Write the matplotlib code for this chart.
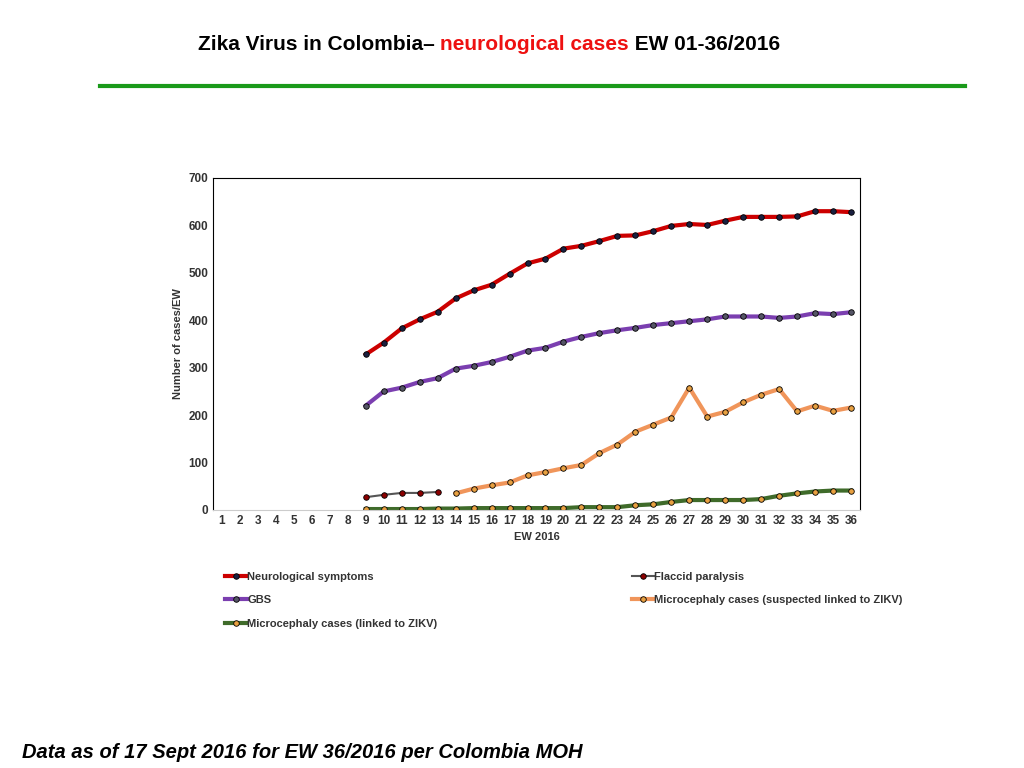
import matplotlib
matplotlib.use("Agg")
import matplotlib.pyplot as plt
from matplotlib.lines import Line2D

plt.rcParams['font.family'] = ['Liberation Sans', 'DejaVu Sans']

weeks = list(range(1, 37))
neuro_weeks = list(range(9, 37))
neuro = [328, 353, 383, 402, 418, 446, 463, 475, 498, 520, 530, 551, 557, 567,
         578, 579, 588, 599, 603, 601, 610, 618, 618, 618, 619, 630, 630, 628]
gbs = [220, 250, 258, 270, 278, 298, 304, 312, 323, 336, 342, 355, 365, 373,
       379, 384, 390, 394, 398, 402, 408, 408, 408, 405, 408, 415, 413, 417]
flaccid_weeks = list(range(9, 14))
flaccid = [27, 32, 36, 36, 38]
micro_susp_weeks = list(range(14, 37))
micro_susp = [35, 45, 52, 58, 73, 80, 88, 95, 120, 138, 165, 180, 195, 258,
              197, 207, 227, 243, 255, 208, 220, 209, 216]
micro_conf = [2, 2, 2, 2, 3, 3, 4, 4, 4, 4, 4, 4, 6, 6, 6, 10, 12, 17, 21,
              21, 21, 21, 23, 30, 35, 39, 41, 41]

fig = plt.figure(figsize=(10.24, 7.68), dpi=100)
ax = fig.add_axes([213/1024, 1-510/768, (860-213)/1024, (510-178)/768])

ax.plot(neuro_weeks, neuro, color='#cc0000', lw=3, marker='o', ms=4,
        mfc='#1a2040', mec='black', mew=0.6, label='Neurological symptoms')
ax.plot(flaccid_weeks, flaccid, color='#555555', lw=1.5, marker='o', ms=4,
        mfc='#8b0000', mec='black', mew=0.6, label='Flaccid paralysis')
ax.plot(neuro_weeks, gbs, color='#7b3fb0', lw=3, marker='o', ms=4,
        mfc='#555566', mec='black', mew=0.6, label='GBS')
ax.plot(micro_susp_weeks, micro_susp, color='#f0955a', lw=3, marker='o', ms=4,
        mfc='#e8a040', mec='black', mew=0.6,
        label='Microcephaly cases (suspected linked to ZIKV)')
ax.plot(neuro_weeks, micro_conf, color='#3f6b2a', lw=3, marker='o', ms=4,
        mfc='#e8a040', mec='black', mew=0.6,
        label='Microcephaly cases (linked to ZIKV)')

ax.set_xlim(0.5, 36.5)
ax.set_ylim(0, 700)
ax.set_xticks(weeks)
ax.set_yticks(range(0, 701, 100))
ax.tick_params(length=0, labelsize=8.5, colors='#333333')
for lab in ax.get_xticklabels() + ax.get_yticklabels():
    lab.set_fontweight('bold')
for s in ['top', 'right', 'left']:
    ax.spines[s].set_color('black')
    ax.spines[s].set_linewidth(0.8)
ax.spines['bottom'].set_color('#cccccc')
ax.set_xlabel('EW 2016', fontsize=8, fontweight='bold', color='#333333')
ax.set_ylabel('Number of cases/EW', fontsize=8, fontweight='bold', color='#333333')

h, l = ax.get_legend_handles_labels()
order = [0, 2, 4, 1, 3]
leg = fig.legend([h[i] for i in order], [l[i] for i in order], ncol=2,
                 loc='upper left', bbox_to_anchor=(215/1024, 1-562/768),
                 frameon=False, fontsize=8, handlelength=2, handletextpad=0,
                 columnspacing=17.5, labelspacing=1.2)
for t in leg.get_texts():
    t.set_fontweight('bold')
    t.set_color('#333333')

# title in three parts, placed side by side
ty = 1 - 45/768
parts = [('Zika Virus in Colombia\u2013 ', 'black'),
         ('neurological cases', '#ee1111'),
         (' EW 01-36/2016', 'black')]
r = fig.canvas.get_renderer()
x = 198/1024
for txt, col in parts:
    t = fig.text(x, ty, txt, fontsize=15, color=col, fontweight='bold',
                 va='center', ha='left')
    x += t.get_window_extent(r).width / 1024

fig.add_artist(Line2D([100/1024, 965/1024], [1-86/768, 1-86/768],
                      color='#1a9a1a', lw=3))
fig.text(22/1024, 1-752/768, 'Data as of 17 Sept 2016 for EW 36/2016 per Colombia MOH',
         fontsize=14.5, fontweight='bold', style='italic', va='center')

fig.savefig('out.png', dpi=100)
